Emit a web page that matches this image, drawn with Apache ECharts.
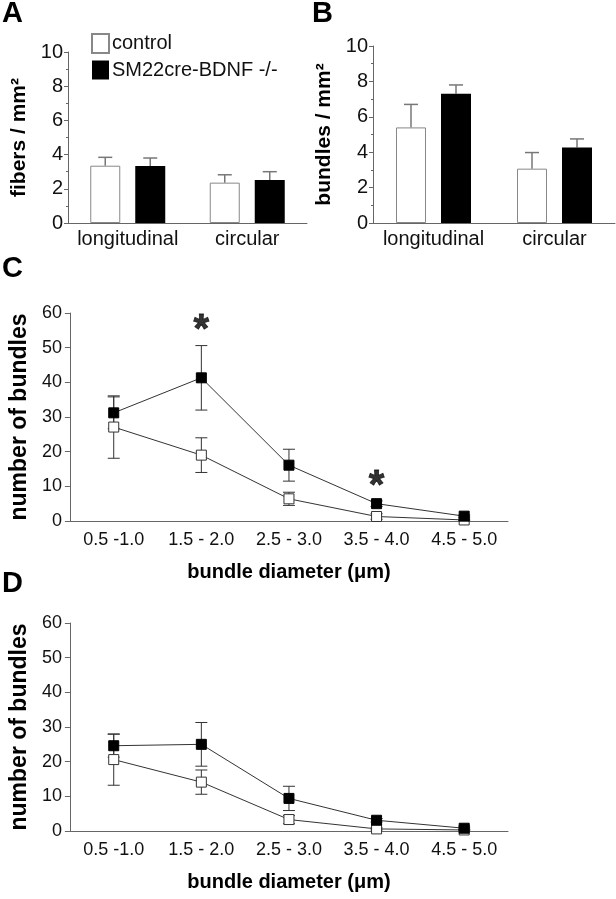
<!DOCTYPE html>
<html>
<head>
<meta charset="utf-8">
<script src="https://cdn.jsdelivr.net/npm/echarts@6/dist/echarts.min.js"></script>
<style>
html,body{margin:0;padding:0;background:#fff;}
#chart{width:616px;height:899px;}
</style>
</head>
<body>
<div id="chart"></div>
<script>
// ---- data ----
var barCategories = ['longitudinal', 'circular'];
var fibersControl = [3.35, 2.36];
var fibersControlErr = [0.49, 0.46];
var fibersKO = [3.33, 2.51];
var fibersKOErr = [0.47, 0.49];
var bundlesControl = [5.4, 3.07];
var bundlesControlErr = [1.3, 0.91];
var bundlesKO = [7.3, 4.26];
var bundlesKOErr = [0.5, 0.49];

var diameterCategories = ['0.5 -1.0', '1.5 - 2.0', '2.5 - 3.0', '3.5 - 4.0', '4.5 - 5.0'];
var cControl = [27.1, 19.0, 6.4, 1.3, 0.3];
var cControlErr = [9.0, 5.0, 1.9, 0.8, 0.2];
var cKO = [31.2, 41.3, 16.1, 5.0, 1.4];
var cKOErr = [4.6, 9.3, 4.6, 0.8, 0.3];
var cStars = [[1, 57.2], [3, 12.2]];
var dControl = [20.6, 14.1, 3.3, 0.6, 0.3];
var dControlErr = [7.4, 3.5, 1.2, 0.3, 0.1];
var dKO = [24.6, 25.0, 9.4, 3.1, 0.8];
var dKOErr = [3.3, 6.3, 3.5, 0.5, 0.3];

var FONT = '"Liberation Sans", Arial, sans-serif';
var AXIS_COLOR = '#666';

function zip(m, e) { return m.map(function (v, i) { return [i, v, e[i]]; }); }

function barErr(xi, yi, data, offset, color) {
  return {
    type: 'custom', xAxisIndex: xi, yAxisIndex: yi, z: 1, silent: true,
    data: data,
    renderItem: function (params, api) {
      var c = api.value(0), m = api.value(1), e = api.value(2);
      var p0 = api.coord([c, m]);
      var p1 = api.coord([c, m + e]);
      var x = p0[0] + offset;
      var st = { stroke: color, lineWidth: 1.5 };
      return { type: 'group', children: [
        { type: 'line', shape: { x1: x, y1: p0[1], x2: x, y2: p1[1] }, style: st },
        { type: 'line', shape: { x1: x - 7, y1: p1[1], x2: x + 7, y2: p1[1] }, style: st }
      ]};
    }
  };
}

function lineErr(xi, yi, data) {
  return {
    type: 'custom', xAxisIndex: xi, yAxisIndex: yi, z: 1, silent: true,
    data: data,
    renderItem: function (params, api) {
      var c = api.value(0), m = api.value(1), e = api.value(2);
      var pt = api.coord([c, m + e]);
      var pb = api.coord([c, Math.max(0, m - e)]);
      var x = pt[0];
      var st = { stroke: '#333', lineWidth: 1 };
      return { type: 'group', children: [
        { type: 'line', shape: { x1: x, y1: pt[1], x2: x, y2: pb[1] }, style: st },
        { type: 'line', shape: { x1: x - 6, y1: pt[1], x2: x + 6, y2: pt[1] }, style: st },
        { type: 'line', shape: { x1: x - 6, y1: pb[1], x2: x + 6, y2: pb[1] }, style: st }
      ]};
    }
  };
}

function yAxisBar(name, gridIndex) {
  return {
    gridIndex: gridIndex, type: 'value', min: 0, max: 10, interval: 2,
    name: name, nameLocation: 'middle', nameGap: 38,
    nameTruncate: { maxWidth: 400 },
    nameTextStyle: { fontFamily: FONT, fontSize: 21, fontWeight: 'bold', color: '#000', width: 200, overflow: 'none' },
    axisLine: { show: true, lineStyle: { color: AXIS_COLOR } },
    axisTick: { show: true, length: 4, lineStyle: { color: AXIS_COLOR } },
    minorTick: { show: true, splitNumber: 2, length: 2, lineStyle: { color: AXIS_COLOR } },
    splitLine: { show: false },
    axisLabel: { fontFamily: FONT, fontSize: 20, color: '#111', margin: 5 }
  };
}
function xAxisBar(gridIndex) {
  return {
    gridIndex: gridIndex, type: 'category', data: barCategories,
    axisLine: { lineStyle: { color: AXIS_COLOR } },
    axisTick: { show: false },
    axisLabel: { fontFamily: FONT, fontSize: 20, color: '#111', margin: 6, interval: 0, hideOverlap: false }
  };
}
function yAxisLine(gridIndex) {
  return {
    gridIndex: gridIndex, type: 'value', min: 0, max: 60, interval: 10,
    name: 'number of bundles', nameLocation: 'middle', nameGap: 34,
    nameTruncate: { maxWidth: 400 },
    nameTextStyle: { fontFamily: FONT, fontSize: 23, fontWeight: 'bold', color: '#000' },
    axisLine: { show: true, lineStyle: { color: AXIS_COLOR } },
    axisTick: { show: true, length: 5, lineStyle: { color: AXIS_COLOR } },
    splitLine: { show: false },
    axisLabel: { fontFamily: FONT, fontSize: 18, color: '#111', margin: 8 }
  };
}
function xAxisLine(gridIndex) {
  return {
    gridIndex: gridIndex, type: 'category', data: diameterCategories,
    name: 'bundle diameter (\u03bcm)', nameLocation: 'middle', nameGap: 41,
    nameTextStyle: { fontFamily: FONT, fontSize: 20, fontWeight: 'bold', color: '#000' },
    axisLine: { lineStyle: { color: AXIS_COLOR } },
    axisTick: { show: false },
    axisLabel: { fontFamily: FONT, fontSize: 18, color: '#111', margin: 10, interval: 0 }
  };
}

var controlBarStyle = { color: '#fff', borderColor: '#888', borderWidth: 1 };
var koBarStyle = { color: '#000' };

function lineSeries(name, xi, yi, vals, filled) {
  return {
    name: name, type: 'line', xAxisIndex: xi, yAxisIndex: yi, z: 3,
    data: vals, symbol: 'rect', symbolSize: 10, showSymbol: true,
    lineStyle: { color: '#333', width: 1 },
    itemStyle: filled ? { color: '#000', borderColor: '#000', borderWidth: 1 }
                      : { color: '#fff', borderColor: '#333', borderWidth: 1 },
    emphasis: { disabled: true }
  };
}

var option = {
  animation: false,
  backgroundColor: '#fff',
  textStyle: { fontFamily: FONT },
  grid: [
    { left: 68, top: 52, width: 239, height: 171 },
    { left: 373, top: 46, width: 242, height: 177 },
    { left: 58, top: 313, width: 450, height: 208 },
    { left: 58, top: 623, width: 450, height: 208 }
  ],
  legend: {
    data: ['control', 'SM22cre-BDNF -/-'],
    orient: 'vertical', left: 91, top: 33, itemGap: 6, padding: 0,
    itemWidth: 17, itemHeight: 19, icon: 'rect',
    textStyle: { fontFamily: FONT, fontSize: 20, color: '#111', padding: [0, 0, 0, -2] },
    selectedMode: false
  },
  xAxis: [xAxisBar(0), xAxisBar(1), xAxisLine(2), xAxisLine(3)],
  yAxis: [yAxisBar('fibers / mm\u00b2', 0), yAxisBar('bundles / mm\u00b2', 1), yAxisLine(2), yAxisLine(3)],
  graphic: [
    { type: 'text', left: 2, top: -1, style: { text: 'A', font: 'bold 29px ' + FONT, fill: '#000' } },
    { type: 'text', left: 312, top: -1, style: { text: 'B', font: 'bold 29px ' + FONT, fill: '#000' } },
    { type: 'text', left: 2, top: 254, style: { text: 'C', font: 'bold 29px ' + FONT, fill: '#000' } },
    { type: 'text', left: 2, top: 569, style: { text: 'D', font: 'bold 29px ' + FONT, fill: '#000' } }
  ],
  series: [
    { name: 'control', type: 'bar', xAxisIndex: 0, yAxisIndex: 0, data: fibersControl, barWidth: 30, barGap: '50%', itemStyle: controlBarStyle, z: 2 },
    { name: 'SM22cre-BDNF -/-', type: 'bar', xAxisIndex: 0, yAxisIndex: 0, data: fibersKO, barWidth: 30, barGap: '50%', itemStyle: koBarStyle, z: 2 },
    barErr(0, 0, zip(fibersControl, fibersControlErr), -22.5, '#777'),
    barErr(0, 0, zip(fibersKO, fibersKOErr), 22.5, '#777'),
    { name: 'control', type: 'bar', xAxisIndex: 1, yAxisIndex: 1, data: bundlesControl, barWidth: 30, barGap: '50%', itemStyle: controlBarStyle, z: 2 },
    { name: 'SM22cre-BDNF -/-', type: 'bar', xAxisIndex: 1, yAxisIndex: 1, data: bundlesKO, barWidth: 30, barGap: '50%', itemStyle: koBarStyle, z: 2 },
    barErr(1, 1, zip(bundlesControl, bundlesControlErr), -22.5, '#777'),
    barErr(1, 1, zip(bundlesKO, bundlesKOErr), 22.5, '#777'),

    lineErr(2, 2, zip(cControl, cControlErr)),
    lineErr(2, 2, zip(cKO, cKOErr)),
    lineSeries('control', 2, 2, cControl, false),
    lineSeries('SM22cre-BDNF -/-', 2, 2, cKO, true),
    {
      type: 'scatter', xAxisIndex: 2, yAxisIndex: 2, data: cStars, symbolSize: 0, silent: true, z: 5,
      label: { show: true, position: 'inside', formatter: '*', fontFamily: FONT, fontSize: 40, fontWeight: 'bold', color: '#000', textBorderColor: '#000', textBorderWidth: 0.8, offset: [0, 8] }
    },

    lineErr(3, 3, zip(dControl, dControlErr)),
    lineErr(3, 3, zip(dKO, dKOErr)),
    lineSeries('control', 3, 3, dControl, false),
    lineSeries('SM22cre-BDNF -/-', 3, 3, dKO, true)
  ]
};

var chart = echarts.init(document.getElementById('chart'), null, { renderer: 'canvas' });
chart.setOption(option);
</script>
</body>
</html>
